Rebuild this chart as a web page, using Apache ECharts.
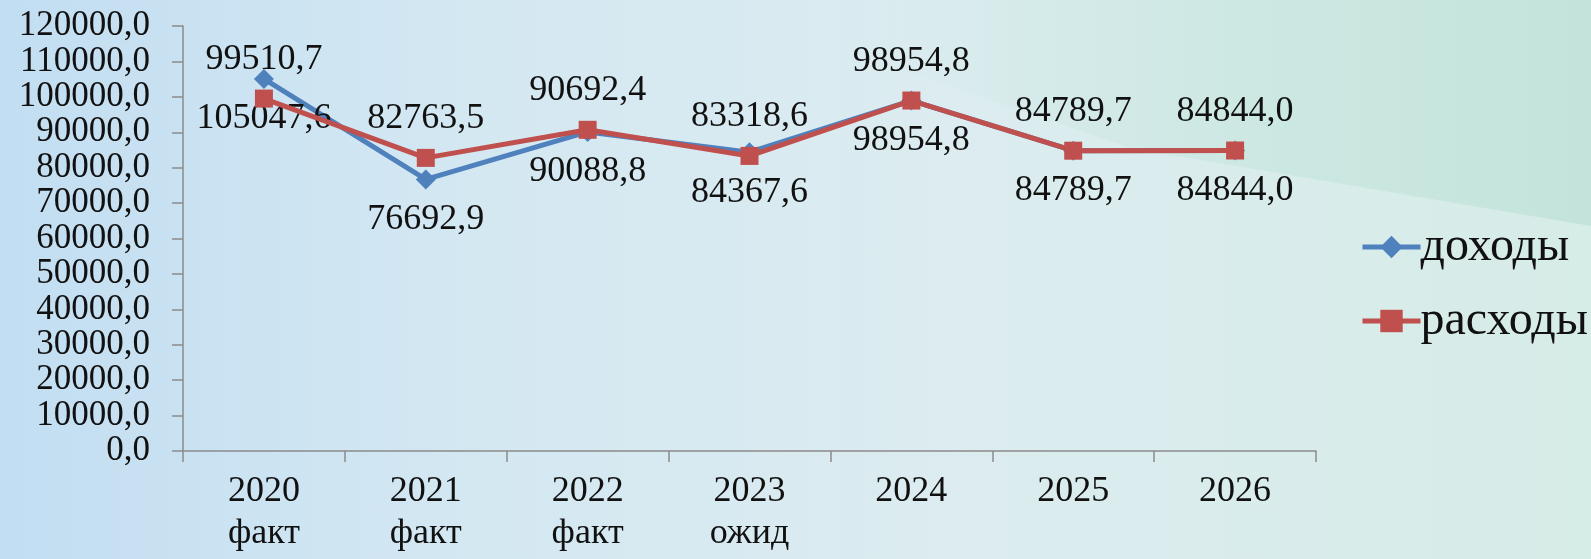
<!DOCTYPE html>
<html>
<head>
<meta charset="utf-8">
<script src="https://cdn.jsdelivr.net/npm/echarts@6/dist/echarts.min.js"></script>
<style>
  html, body { margin: 0; padding: 0; }
  body {
    width: 1591px; height: 559px; overflow: hidden;
    background: linear-gradient(90deg, #c2def2 0%, #d4e8f2 30%, #dcecf0 60%, #d6ece7 100%);
    position: relative;
  }
  #wedge {
    position: absolute; left: 0; top: 0; width: 1591px; height: 559px;
    background: linear-gradient(90deg, rgba(197,229,221,0) 55%, rgba(197,229,221,0.65) 80%, #c4e4db 100%);
    clip-path: polygon(700px 0, 1591px 0, 1591px 226px, 1130px 148px);
  }
  #chart { position: absolute; left: 0; top: 0; width: 1591px; height: 559px; }
</style>
</head>
<body>
<div id="wedge"></div>
<div id="chart"></div>
<script>
var categories = ['2020\nфакт', '2021\nфакт', '2022\nфакт', '2023\nожид', '2024', '2025', '2026']
var incomeValues = [105047.6, 76692.9, 90088.8, 84367.6, 98954.8, 84789.7, 84844.0]
var expenseValues = [99510.7, 82763.5, 90692.4, 83318.6, 98954.8, 84789.7, 84844.0]
var seriesNames = ['доходы', 'расходы']

var chart = echarts.init(document.getElementById('chart'))

function fmt(v) {
  return v.toFixed(1).replace('.', ',')
}

var font = '"Liberation Serif", "DejaVu Serif", serif'

var option = {
  backgroundColor: 'transparent',
  textStyle: { fontFamily: font },
  grid: {
    left: 183,
    right: 275,
    top: 26,
    bottom: 108
  },
  legend: {
    orient: 'vertical',
    left: 1355,
    top: 218,
    itemWidth: 58,
    itemHeight: 28,
    itemGap: 26,
    lineStyle: { width: 5 },
    textStyle: { fontFamily: font, fontSize: 48, color: '#111', padding: [0, 0, 0, -5] },
    data: seriesNames
  },
  xAxis: {
    type: 'category',
    data: categories,
    boundaryGap: true,
    axisLine: { lineStyle: { color: '#8a8a8a', width: 1.5 } },
    axisTick: { show: true, length: 11, lineStyle: { color: '#8a8a8a', width: 1.5 } },
    axisLabel: {
      interval: 0,
      margin: 20,
      fontFamily: font,
      fontSize: 36,
      lineHeight: 42,
      color: '#111'
    }
  },
  yAxis: {
    type: 'value',
    min: 0,
    max: 120000,
    interval: 10000,
    axisLine: { show: true, lineStyle: { color: '#8a8a8a', width: 1.5 } },
    axisTick: { show: true, length: 11, lineStyle: { color: '#8a8a8a', width: 1.5 } },
    splitLine: { show: false },
    axisLabel: {
      margin: 33,
      fontFamily: font,
      fontSize: 35,
      color: '#111',
      formatter: function (v) { return fmt(v) }
    }
  },
  series: [
    {
      name: seriesNames[0],
      type: 'line',
      data: incomeValues,
      symbol: 'diamond',
      symbolSize: 20,
      itemStyle: { color: '#4f81bd' },
      lineStyle: { color: '#4f81bd', width: 5 },
      label: {
        show: true,
        position: 'bottom',
        distance: 12,
        fontFamily: font,
        fontSize: 36,
        color: '#111',
        formatter: function (p) { return fmt(p.value) }
      },
      z: 2
    },
    {
      name: seriesNames[1],
      type: 'line',
      data: expenseValues,
      symbol: 'rect',
      symbolSize: 18,
      itemStyle: { color: '#c0504d' },
      lineStyle: { color: '#c0504d', width: 5 },
      label: {
        show: true,
        position: 'top',
        distance: 12,
        fontFamily: font,
        fontSize: 36,
        color: '#111',
        formatter: function (p) { return fmt(p.value) }
      },
      z: 3
    }
  ]
}

chart.setOption(option)
</script>
</body>
</html>
